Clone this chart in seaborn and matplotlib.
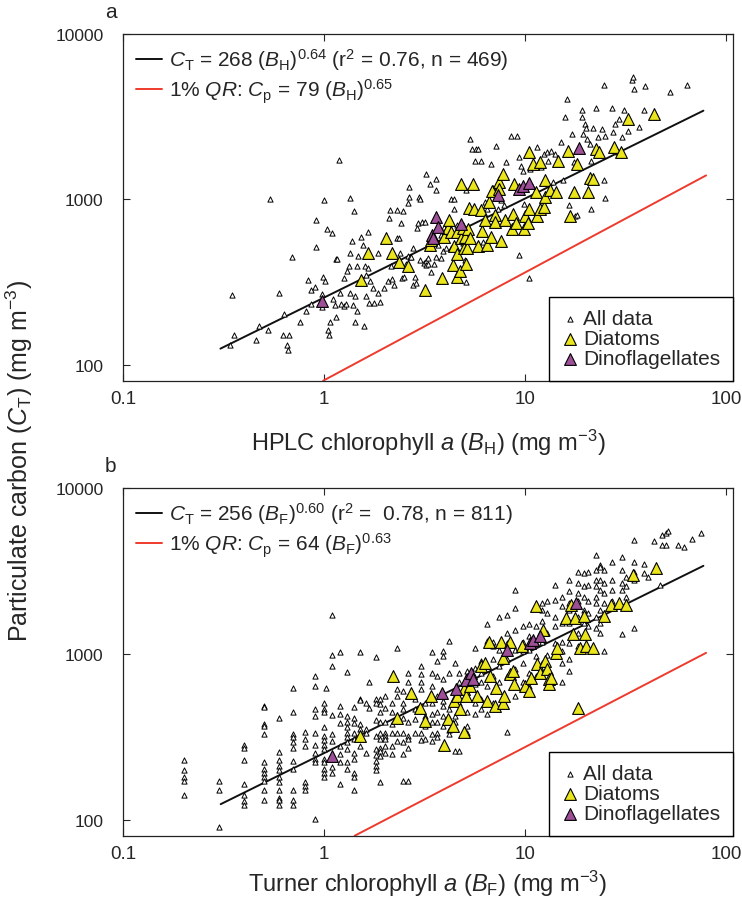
import numpy as np
import pandas as pd
import matplotlib
matplotlib.use('Agg')
import matplotlib.pyplot as plt
import seaborn as sns
from matplotlib import font_manager
from matplotlib.ticker import NullLocator

# ---- panel a: HPLC chlorophyll a (B_H) vs particulate carbon (C_T) ----
hplc_all = [
    (0.35, 263), (0.34, 131), (0.358, 151), (0.459, 141), (0.472, 172), (0.529, 162), (0.538, 1009),
    (0.599, 273), (0.631, 202), (0.628, 151), (0.67, 151), (0.652, 131), (0.66, 122), (0.692, 445),
    (0.762, 182), (0.81, 212), (0.83, 324), (0.858, 233), (0.858, 283), (0.9, 296), (0.91, 513),
    (0.91, 745), (1.0, 986), (0.99, 340), (1.01, 319), (1.03, 657), (1.09, 622), (0.98, 268),
    (0.98, 222), (1.04, 162), (1.06, 151), (1.07, 182), (1.14, 193), (1.11, 251), (1.13, 231),
    (1.18, 1721), (1.14, 438), (1.16, 434), (1.2, 272), (1.21, 233), (1.25, 225), (1.28, 233),
    (1.26, 336), (1.3, 366), (1.33, 393), (1.35, 1019), (1.37, 560), (1.35, 476), (1.35, 271),
    (1.39, 231), (1.43, 261), (1.46, 212), (1.42, 182), (1.45, 396), (1.47, 455), (1.52, 594),
    (1.57, 530), (1.59, 393), (1.58, 172), (1.62, 347), (1.61, 260), (1.66, 633), (1.66, 383),
    (1.68, 235), (1.69, 319), (1.76, 291), (1.78, 237), (1.86, 273), (1.86, 472), (1.9, 240),
    (1.41, 851), (1.99, 291), (2.08, 322), (2.1, 769), (2.13, 859), (2.18, 331), (2.22, 305),
    (2.14, 393), (2.3, 867), (2.3, 581), (2.36, 586), (2.39, 472), (2.41, 721), (2.44, 334),
    (2.47, 847), (2.51, 340), (2.55, 405), (2.64, 1191), (2.64, 1028), (2.6, 955), (2.61, 455),
    (2.67, 445), (2.7, 450), (2.76, 506), (2.76, 305), (2.82, 340), (2.86, 312), (2.9, 667),
    (2.93, 724), (2.95, 1033), (3.0, 1009), (3.0, 430), (3.06, 731), (3.13, 411), (3.16, 731),
    (3.2, 1413), (3.2, 424), (3.23, 402), (3.27, 441), (3.3, 405), (3.36, 1231), (3.41, 362),
    (3.45, 506), (3.53, 405), (3.6, 1331), (3.62, 1132), (3.7, 530), (3.62, 450), (3.8, 441),
    (3.82, 612), (3.9, 485), (3.96, 682), (4.05, 506), (4.3, 1009), (4.45, 1009), (4.3, 506),
    (4.43, 879), (4.6, 698), (4.93, 542), (5.03, 430), (5.1, 314), (5.1, 1132), (5.3, 2313),
    (5.45, 2014), (5.62, 1714), (5.7, 2014), (5.8, 2014), (6.0, 1714), (6.15, 554), (6.28, 964),
    (6.49, 879), (6.8, 1637), (6.9, 1170), (7.2, 2109), (7.3, 879), (7.55, 986), (7.85, 921),
    (8.0, 1675), (8.55, 2420), (9.1, 2420), (9.3, 461), (9.33, 1810), (9.5, 1600), (9.77, 1492),
    (9.9, 942), (10.4, 334), (10.6, 1527), (10.8, 1212), (11.5, 2061), (12.0, 1575), (12.4, 1878),
    (12.8, 1940), (13.0, 1714), (13.5, 1970), (13.8, 1271), (14.1, 1878), (15.0, 2207), (15.4, 1300),
    (15.8, 3140), (16.2, 4019), (16.6, 921), (17.1, 2495), (17.5, 1675), (17.7, 789), (18.2, 809),
    (19.1, 3468), (19.2, 3140), (19.3, 2495), (19.8, 2843), (20.0, 2717), (20.3, 2313), (21.0, 2158),
    (21.3, 1714), (21.3, 879), (21.8, 2717), (22.5, 3580), (23.0, 2365), (24.1, 2655), (24.6, 1300),
    (24.7, 4943), (25.0, 1019), (25.0, 2420), (26.9, 3580), (27.4, 2537), (28.0, 2843), (28.8, 1920),
    (29.2, 3050), (30.3, 2365), (31.1, 3490), (32.5, 2600), (33.8, 5298), (34.3, 5500), (34.9, 4615),
    (36.8, 2750), (39.0, 3460), (39.5, 4830), (52.5, 4440), (63.5, 4940),
]
hplc_diatoms = [
    (1.53, 327), (1.66, 476), (2.04, 581), (2.17, 476), (2.36, 415), (2.6, 396), (3.16, 284),
    (3.37, 530), (3.4, 567), (3.87, 335), (3.96, 594), (4.15, 667), (4.19, 747), (4.29, 635),
    (4.39, 400), (4.45, 521), (4.56, 635), (4.56, 465), (4.6, 340), (4.72, 366), (4.77, 581),
    (4.8, 1231), (4.93, 667), (4.95, 506), (5.03, 594), (5.1, 405), (5.13, 506), (5.2, 662),
    (5.25, 887), (5.3, 581), (5.5, 1231), (5.56, 879), (5.8, 521), (6.0, 859), (6.13, 643),
    (6.28, 747), (6.49, 530), (6.64, 964), (6.8, 594), (6.85, 1122), (7.05, 801), (7.1, 731),
    (7.45, 1268), (7.45, 1160), (7.55, 560), (7.75, 1427), (7.98, 747), (8.6, 662), (8.67, 820),
    (8.76, 1240), (8.98, 724), (9.9, 662), (10.0, 789), (10.3, 724), (10.4, 879), (10.5, 1923),
    (11.0, 1637), (11.3, 1106), (11.4, 794), (11.8, 1675), (11.8, 879), (12.4, 900), (12.5, 1033),
    (12.6, 1300), (13.3, 1132), (14.3, 1106), (14.5, 1714), (16.3, 1970), (16.8, 789), (17.5, 1106),
    (18.1, 1637), (20.6, 1106), (20.9, 1343), (21.8, 1320), (22.5, 2014), (23.3, 1940), (27.7, 2061),
    (29.9, 1940), (32.5, 3050), (43.8, 3266),
]
hplc_dinos = [
    (0.98, 244), (3.43, 612), (3.48, 581), (3.62, 786), (3.7, 682), (4.8, 711), (7.3, 1057),
    (9.33, 1149), (9.8, 1212), (10.4, 1259), (18.5, 2035),
]
# fit lines as drawn (end points)
hplc_fit_x, hplc_fit_y = [0.305, 77], [125, 3435]
hplc_qr_x, hplc_qr_y = [0.99, 79.4], [80, 1395]

# ---- panel b: Turner chlorophyll a (B_F) vs particulate carbon (C_T) ----
turner_all = [
    (0.2, 230), (0.2, 200), (0.2, 181), (0.2, 170), (0.2, 141),
    (0.3, 171), (0.3, 150), (0.3, 90),
    (0.4, 282), (0.4, 269), (0.4, 230), (0.4, 163), (0.4, 140), (0.4, 129), (0.4, 122),
    (0.5, 485), (0.5, 476), (0.5, 377), (0.5, 366), (0.5, 329), (0.5, 224), (0.5, 203), (0.5, 192),
    (0.5, 181), (0.5, 172), (0.5, 150), (0.5, 131),
    (0.6, 413), (0.6, 257), (0.6, 230), (0.6, 212), (0.6, 200), (0.6, 181), (0.6, 168), (0.6, 150),
    (0.6, 136), (0.6, 131), (0.6, 122),
    (0.7, 625), (0.7, 445), (0.7, 329), (0.7, 313), (0.7, 295), (0.7, 269), (0.7, 227), (0.7, 203),
    (0.7, 150), (0.7, 131), (0.7, 122),
    (0.8, 339), (0.8, 306), (0.8, 277), (0.8, 168), (0.8, 160), (0.8, 150),
    (0.9, 734), (0.9, 641), (0.9, 463), (0.9, 419), (0.9, 332), (0.9, 282), (0.9, 252), (0.9, 232),
    (0.9, 224), (0.9, 101),
    (1.0, 508), (1.0, 467), (1.0, 445), (1.0, 361), (1.0, 320), (1.0, 303), (1.0, 283), (1.0, 267),
    (1.0, 232), (1.0, 224), (1.0, 203), (1.0, 192), (1.0, 181), (1.02, 625),
    (1.1, 1721), (1.1, 991), (1.1, 843), (1.1, 430), (1.1, 329), (1.1, 299), (1.1, 209), (1.1, 192),
    (1.2, 1023), (1.2, 485), (1.2, 433), (1.2, 382), (1.2, 277), (1.2, 250), (1.2, 224), (1.2, 163),
    (1.3, 778), (1.3, 424), (1.3, 386), (1.3, 361), (1.3, 332), (1.3, 313), (1.3, 292), (1.3, 267),
    (1.3, 224), (1.3, 203),
    (1.41, 481), (1.41, 413), (1.41, 382), (1.41, 332), (1.41, 306), (1.41, 254), (1.41, 232),
    (1.41, 192), (1.41, 181), (1.41, 150),
    (1.51, 1023), (1.51, 537), (1.51, 527), (1.51, 377), (1.51, 351), (1.51, 313), (1.51, 280),
    (1.61, 508), (1.61, 351), (1.61, 332), (1.61, 254), (1.67, 677), (1.67, 474),
    (1.81, 962), (1.81, 537), (1.81, 508), (1.81, 400), (1.81, 320), (1.81, 267), (1.81, 247),
    (1.81, 227), (1.81, 212), (1.81, 198),
    (1.9, 537), (1.9, 496), (1.9, 445), (1.9, 386), (1.9, 332), (1.9, 306), (1.9, 272), (1.9, 260),
    (1.9, 241), (1.9, 168),
    (2.0, 556), (2.0, 474), (2.0, 386), (2.0, 332), (2.0, 320), (2.0, 306), (2.0, 280), (2.0, 254),
    (2.18, 508), (2.18, 445), (2.18, 377), (2.18, 332), (2.18, 280), (2.18, 250),
    (2.3, 1085), (2.3, 612), (2.3, 556), (2.3, 332), (2.3, 299),
    (2.47, 598), (2.47, 508), (2.47, 463), (2.47, 413), (2.47, 332), (2.47, 292), (2.47, 250), (2.47, 172),
    (2.61, 768), (2.61, 677), (2.61, 556), (2.61, 386), (2.61, 320), (2.61, 306), (2.61, 272), (2.61, 172),
    (2.83, 537), (2.83, 463), (2.83, 404), (2.83, 332),
    (3.03, 843), (3.03, 760), (3.03, 677), (3.03, 612), (3.03, 463), (3.03, 332), (3.03, 303),
    (3.17, 508), (3.17, 424), (3.17, 369), (3.17, 306),
    (3.45, 1023), (3.45, 768), (3.45, 640), (3.45, 508), (3.45, 433), (3.45, 386), (3.45, 329), (3.45, 299),
    (3.65, 904), (3.65, 734), (3.65, 556), (3.65, 445), (3.65, 386), (3.65, 332), (3.65, 313),
    (3.91, 1037), (3.91, 968), (3.91, 702), (3.91, 519), (3.91, 485), (3.91, 424), (3.91, 369),
    (4.19, 1203), (4.19, 768), (4.19, 463), (4.19, 413), (4.19, 346), (4.19, 329),
    (4.49, 883), (4.49, 537), (4.49, 424), (4.49, 386), (4.49, 260),
    (4.7, 768), (4.7, 677), (4.7, 508), (4.7, 260),
    (5.15, 786), (5.15, 734), (5.15, 612), (5.15, 445), (5.15, 369), (5.15, 332),
    (5.64, 1085), (5.64, 822), (5.64, 655), (5.64, 508), (5.64, 433),
    (6.04, 904), (6.04, 768), (6.04, 677), (6.04, 537), (6.04, 463),
    (6.47, 1515), (6.47, 1203), (6.47, 843), (6.47, 640), (6.47, 433),
    (6.93, 1178), (6.93, 1110), (6.93, 925), (6.93, 734), (6.93, 508),
    (7.43, 1660), (7.43, 1061), (7.43, 843), (7.43, 677),
    (8.15, 1721), (8.15, 1330), (8.15, 1164), (8.15, 925), (8.15, 734), (8.15, 337),
    (8.93, 2432), (8.93, 1890), (8.93, 1400), (8.93, 1061), (8.93, 805), (8.93, 556),
    (9.8, 1466), (9.8, 1178), (9.8, 1037), (9.8, 883), (9.8, 677),
    (10.5, 1515), (10.5, 1276), (10.5, 1061), (10.5, 768), (10.5, 640),
    (11.3, 1932), (11.3, 1466), (11.3, 1164), (11.3, 968), (11.3, 734),
    (12.1, 2023), (12.1, 1840), (12.1, 1570), (12.1, 1178), (12.1, 883),
    (12.9, 2070), (12.9, 1760), (12.9, 1330), (12.9, 991), (12.9, 786),
    (14.0, 2610), (14.0, 2120), (14.0, 1660), (14.0, 1466), (14.0, 1164), (14.0, 968),
    (15.2, 2210), (15.2, 1932), (15.2, 1540), (15.2, 1178), (15.2, 1037), (15.2, 883), (15.2, 677),
    (16.6, 2780), (16.6, 2380), (16.6, 2023), (16.6, 1840), (16.6, 1540), (16.6, 1164), (16.6, 925),
    (16.6, 786),
    (18.3, 3130), (18.3, 2670), (18.3, 2320), (18.3, 2070), (18.3, 1660), (18.3, 1330), (18.3, 1110),
    (19.6, 3060), (19.6, 2550), (19.6, 2210), (19.6, 1840), (19.6, 1540),
    (20.5, 3130), (20.5, 2610), (20.5, 2070), (20.5, 1760), (20.5, 1466),
    (22.4, 3940), (22.4, 3210), (22.4, 2780), (22.4, 2550), (22.4, 2210), (22.4, 2023), (22.4, 1660),
    (22.4, 1430),
    (23.5, 3440), (23.5, 3360), (23.5, 2780), (23.5, 2432), (23.5, 1840), (23.5, 1540), (23.5, 1330),
    (24.6, 3210), (24.6, 2670), (24.6, 2320), (24.6, 2023), (24.6, 1660), (24.6, 1037),
    (27.0, 3600), (27.0, 2780), (27.0, 2432), (27.0, 2070), (27.0, 1890),
    (30.2, 3830), (30.2, 3210), (30.2, 2670), (30.2, 2432), (30.2, 1310),
    (31.6, 2920), (31.6, 2550), (31.6, 2210),
    (34.9, 4850), (34.9, 3600), (34.9, 3130), (34.9, 2780), (34.9, 1430),
    (39.0, 3470), (39.0, 3060), (40.9, 2920), (43.9, 4810), (47.0, 2610), (48.1, 5200), (48.1, 4530),
    (50.4, 5330), (50.4, 4530), (51.5, 5500), (57.7, 4530), (61.8, 4420), (67.8, 4900), (74.9, 5380),
]
turner_diatoms = [
    (1.51, 320), (2.2, 734), (2.3, 413), (2.7, 577), (2.99, 474), (3.17, 395), (3.4, 556), (3.97, 282),
    (4.15, 407), (4.38, 369), (4.45, 519), (4.6, 556), (4.74, 463), (4.94, 337), (4.96, 612), (5.08, 556),
    (5.32, 640), (5.77, 556), (6.04, 843), (6.33, 883), (6.47, 519), (6.62, 1178), (6.72, 734),
    (7.11, 485), (7.2, 625), (7.55, 1178), (7.8, 946), (7.8, 508), (7.87, 556), (8.37, 1178),
    (8.45, 760), (8.67, 786), (8.83, 655), (9.6, 1110), (10.0, 640), (10.5, 598), (10.7, 717),
    (11.3, 1932), (11.4, 863), (11.8, 768), (12.2, 1400), (12.6, 904), (12.8, 805), (13.1, 702),
    (13.2, 655), (13.5, 717), (14.2, 1014), (14.4, 1085), (15.9, 1645), (16.9, 1975), (17.3, 1310),
    (17.6, 1645), (18.3, 474), (18.7, 1085), (19.6, 1700), (19.8, 1310), (20.0, 1110), (21.8, 1085),
    (24.6, 1700), (26.6, 1975), (29.2, 2023), (31.7, 1975), (34.4, 2990), (44.9, 3290),
]
turner_dinos = [
    (1.1, 243), (3.87, 583), (4.55, 617), (5.08, 695), (5.4, 768), (5.48, 708), (8.15, 1050),
    (10.6, 1164), (10.9, 1208), (11.8, 1276), (17.8, 2023),
]
turner_fit_x, turner_fit_y = [0.306, 77], [124, 3396]
turner_qr_x, turner_qr_y = [1.42, 79.4], [80, 1014]

# ---------------- style ----------------
sns.set_style('ticks')
names = {f.name for f in font_manager.fontManager.ttflist}
narrow = 'Liberation Sans Narrow' if 'Liberation Sans Narrow' in names else 'Liberation Sans'
plt.rcParams['font.family'] = ['Liberation Sans', 'DejaVu Sans']
plt.rcParams['mathtext.fontset'] = 'custom'
plt.rcParams['mathtext.rm'] = narrow
plt.rcParams['mathtext.it'] = narrow + ':italic'
plt.rcParams['mathtext.bf'] = narrow + ':bold'

yellow = '#ebe51c'
purple = '#9d4f98'
red = '#ee3a2c'


def to_df(pairs):
    x, y = zip(*pairs)
    return pd.DataFrame({'x': x, 'y': y})


def draw_panel(ax, all_pts, dia_pts, dino_pts, fit_xy, qr_xy, line_labels, xlabel, letter, labelpad):
    sns.lineplot(x=fit_xy[0], y=fit_xy[1], ax=ax, color='#111111', lw=1.4, zorder=2)
    sns.lineplot(x=qr_xy[0], y=qr_xy[1], ax=ax, color=red, lw=1.4, zorder=2)

    sns.scatterplot(data=to_df(all_pts), x='x', y='y', ax=ax, marker='^', s=14,
                    facecolor='white', edgecolor='black', linewidth=0.7, zorder=3, label='All data')
    sns.scatterplot(data=to_df(dia_pts), x='x', y='y', ax=ax, marker='^', s=72,
                    color=yellow, edgecolor='black', linewidth=0.8, zorder=4, label='Diatoms')
    sns.scatterplot(data=to_df(dino_pts), x='x', y='y', ax=ax, marker='^', s=72,
                    color=purple, edgecolor='black', linewidth=0.8, zorder=5, label='Dinoflagellates')

    ax.set_xscale('log')
    ax.set_yscale('log')
    ax.set_xlim(0.1, 108)
    ax.set_ylim(80, 10000)
    ax.set_xticks([0.1, 1, 10, 100])
    ax.set_xticklabels(['0.1', '1', '10', '100'], family=narrow, fontsize=13.5)
    ax.set_yticks([100, 1000, 10000])
    ax.set_yticklabels(['100', '1000', '10000'], fontsize=12.5)
    ax.xaxis.set_minor_locator(NullLocator())
    ax.yaxis.set_minor_locator(NullLocator())
    ax.tick_params(direction='in', top=True, right=True, length=5, width=0.8)
    ax.tick_params(axis='x', pad=7)
    ax.tick_params(axis='y', pad=14)
    for sp in ax.spines.values():
        sp.set_linewidth(0.9)
        sp.set_color('#222222')
    ax.set_xlabel(xlabel, family=narrow, fontsize=17, labelpad=labelpad)
    ax.set_ylabel('')
    ax.text(-0.02, 1.065, letter, transform=ax.transAxes, fontsize=15, ha='center', va='center')

    handles, labels = ax.get_legend_handles_labels()
    ax.get_legend().remove()
    line_handles = ax.get_lines()[:2]
    leg1 = ax.legend(line_handles, line_labels, loc='upper left', frameon=False, fontsize=15,
                     handlelength=1.25, handletextpad=0.35, labelspacing=0.2, borderaxespad=0.2)
    ax.add_artist(leg1)
    leg2 = ax.legend(handles, labels, loc='lower right', fontsize=15, frameon=True, fancybox=False,
                     edgecolor='black', framealpha=1, borderaxespad=0, handletextpad=0.25,
                     labelspacing=0.05, borderpad=0.6, handlelength=0.8)
    leg2.get_frame().set_linewidth(1.0)


fig = plt.figure(figsize=(7.42, 9.03), dpi=100)
ax_a = fig.add_axes([0.1658, 0.5773, 0.822, 0.384])
ax_b = fig.add_axes([0.1658, 0.0734, 0.822, 0.385])

draw_panel(ax_a, hplc_all, hplc_diatoms, hplc_dinos, (hplc_fit_x, hplc_fit_y), (hplc_qr_x, hplc_qr_y),
           [r'$\mathit{C}_{\mathrm{T}}$ = 268 ($\mathit{B}_{\mathrm{H}}$)$^{0.64}$ (r$^2$ = 0.76, n = 469)',
            r'1% $\mathit{QR}$: $\mathit{C}_{\mathrm{p}}$ = 79 ($\mathit{B}_{\mathrm{H}}$)$^{0.65}$'],
           r'HPLC chlorophyll $\mathit{a}$ ($\mathit{B}_{\mathrm{H}}$) (mg m$^{-3}$)', 'a', 14)
draw_panel(ax_b, turner_all, turner_diatoms, turner_dinos, (turner_fit_x, turner_fit_y),
           (turner_qr_x, turner_qr_y),
           [r'$\mathit{C}_{\mathrm{T}}$ = 256 ($\mathit{B}_{\mathrm{F}}$)$^{0.60}$ (r$^2$ =  0.78, n = 811)',
            r'1% $\mathit{QR}$: $\mathit{C}_{\mathrm{p}}$ = 64 ($\mathit{B}_{\mathrm{F}}$)$^{0.63}$'],
           r'Turner chlorophyll $\mathit{a}$ ($\mathit{B}_{\mathrm{F}}$) (mg m$^{-3}$)', 'b', 4)

fig.text(0.026, 0.49, r'Particulate carbon ($\mathit{C}_{\mathrm{T}}$) (mg m$^{-3}$)', rotation=90,
         ha='center', va='center', family=narrow, fontsize=18)

fig.savefig('out.png', dpi=100)
